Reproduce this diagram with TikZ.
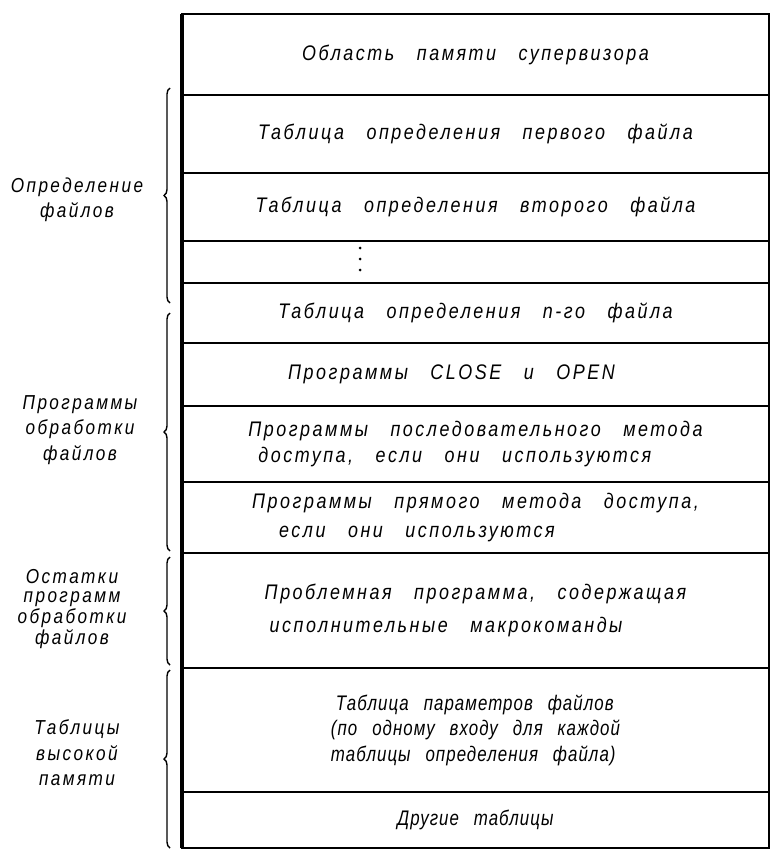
\documentclass[tikz,border=0pt]{standalone}
\usepackage{fontspec}
\setmainfont{Liberation Sans}
\newfontfamily\draftfont{Liberation Sans}[FakeStretch=0.85,LetterSpace=12,WordSpace=3]
\newfontfamily\draftnarrow{Liberation Sans}[FakeStretch=0.8,LetterSpace=5,WordSpace=2.6]
\usetikzlibrary{positioning,calc,decorations.pathreplacing}

\begin{document}
\begin{tikzpicture}[
    font=\draftfont\itshape\fontsize{12}{14.5}\selectfont,
    node distance=0mm,
    cell/.style={draw, line width=1.4pt, minimum width=11.74cm, inner sep=0pt, outer sep=0pt, align=left},
    tight/.style={font=\draftnarrow\itshape\fontsize{12}{14.5}\selectfont},
    side/.style={align=center, font=\draftfont\itshape\fontsize{11.5}{14.5}\selectfont},
    grp/.style={decorate, decoration={brace, amplitude=1.2mm}, line width=0.8pt}
]
\useasboundingbox (0,0) rectangle (15.38,-17);

% memory map, top to bottom
\node[cell, minimum height=1.62cm, anchor=north west] (super) at (3.64,-0.28) {Область памяти супервизора};
\node[cell, minimum height=1.56cm, below=of super] (first) {Таблица определения первого файла};
\node[cell, minimum height=1.36cm, below=of first] (second) {Таблица определения второго файла};
\node[cell, minimum height=0.84cm, below=of second] (gap) {};
\node[cell, minimum height=1.20cm, below=of gap] (nth) {Таблица определения n-го файла};
\node[cell, minimum height=1.26cm, below=of nth] (openclose) {Программы CLOSE и OPEN\hspace*{0.96cm}};
\node[cell, minimum height=1.52cm, below=of openclose] (seq) {Программы последовательного метода\\\hspace*{0.2cm}доступа, если они используются};
\node[cell, minimum height=1.42cm, below=of seq] (direct) {Программы прямого метода доступа,\\[2pt]\hspace*{0.54cm}если они используются};
\node[cell, minimum height=2.30cm, below=of direct] (problem) {Проблемная программа, содержащая\\[4pt]\hspace*{0.1cm}исполнительные макрокоманды};
\node[cell, tight, minimum height=2.48cm, below=of problem] (params) {\hspace*{0.1cm}Таблица параметров файлов\\(по одному входу для каждой\\таблицы определения файла)};
\node[cell, tight, minimum height=1.12cm, below=of params] (other) {Другие таблицы};

% heavy left edge
\draw[line width=2.3pt] (super.north west) -- (other.south west);

% dots in the gap row
\foreach \k in {0,1,2}
  \fill (7.2,-4.96-0.22*\k) circle (0.03);

% groups on the left
\draw[grp] (3.40,-6.06) -- (3.40,-1.76);
\draw[grp] (3.40,-11.02) -- (3.40,-6.26);
\draw[grp] (3.40,-13.30) -- (3.40,-11.14);
\draw[grp] (3.40,-16.96) -- (3.40,-13.40);

\node[side] (deflbl) at (1.54,-4.0) {Определение\\файлов};
\node[side] (proclbl) at (1.6,-8.6) {Программы\\обработки\\файлов};
\node[side, font=\draftfont\itshape\fontsize{11.5}{10.6}\selectfont] (restlbl) at (1.44,-12.18) {Остатки\\программ\\обработки\\файлов};
\node[side] (highlbl) at (1.54,-15.06) {Таблицы\\высокой\\памяти};
\end{tikzpicture}
\end{document}
